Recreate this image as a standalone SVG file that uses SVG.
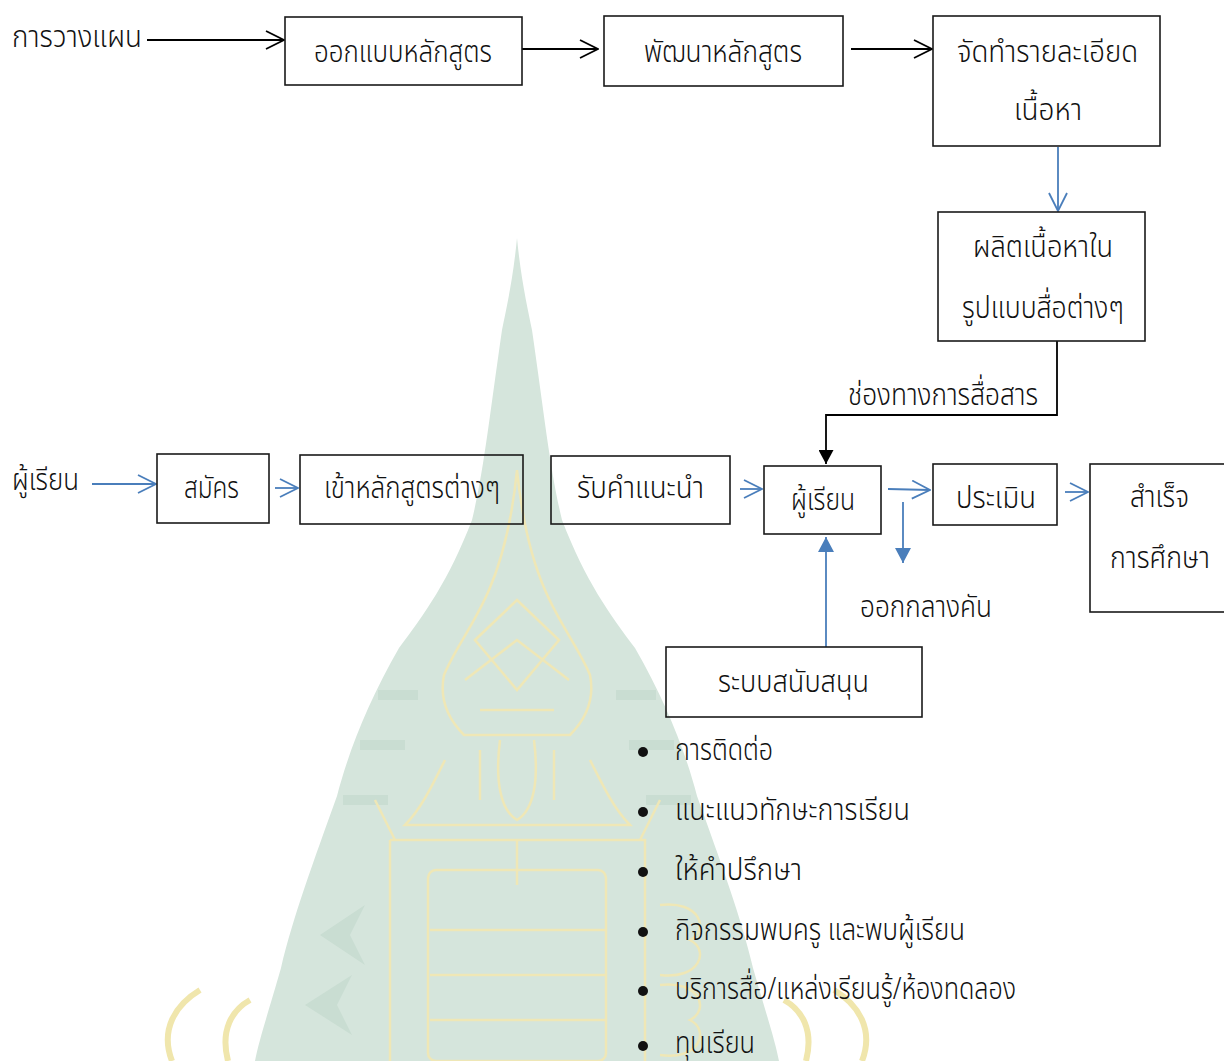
<svg xmlns="http://www.w3.org/2000/svg" width="1224" height="1061" viewBox="0 0 1224 1061">
<style>
.bx{fill:none;stroke:#1a1a1a;stroke-width:1.6}
.t{font-family:'Noto Sans Thai','Noto Sans','DejaVu Sans',sans-serif;font-size:31px;font-weight:300;fill:#111}
.k{fill:none;stroke:#000;stroke-width:1.8}
.b{fill:none;stroke:#4a7ebb;stroke-width:1.8}
.orn{fill:none;stroke:#efe7b6;stroke-width:2.5}
</style>
<defs>
<marker id="ok" viewBox="-1 -1 20 20" refX="18" refY="9" markerWidth="20" markerHeight="20" markerUnits="userSpaceOnUse" orient="auto"><path d="M0,0 L18,9 L0,18" fill="none" stroke="#000" stroke-width="1.8"/></marker>
<marker id="ob" viewBox="-1 -1 20 20" refX="18" refY="9" markerWidth="20" markerHeight="20" markerUnits="userSpaceOnUse" orient="auto"><path d="M0,0 L18,9 L0,18" fill="none" stroke="#4a7ebb" stroke-width="1.8"/></marker>
<marker id="fk" viewBox="0 0 14 15" refX="14" refY="7.5" markerWidth="14" markerHeight="15" markerUnits="userSpaceOnUse" orient="auto"><path d="M0,0 L14,7.5 L0,15 Z" fill="#000"/></marker>
<marker id="fb" viewBox="0 0 15 16" refX="15" refY="8" markerWidth="15" markerHeight="16" markerUnits="userSpaceOnUse" orient="auto"><path d="M0,0 L15,8 L0,16 Z" fill="#4a7ebb"/></marker>
</defs>
<rect width="1224" height="1061" fill="#fff"/>
<g id="watermark">
<path d="M517,238 C521,280 528,310 532,330 C545,420 550,470 562,520 C585,580 610,615 635,648 C665,700 685,750 697,796 C720,860 742,920 753,968 C765,1010 775,1040 779,1061 L255,1061 C259,1040 269,1010 281,968 C292,920 314,860 337,796 C349,750 369,700 399,648 C424,615 449,580 472,520 C484,470 489,420 502,330 C506,310 513,280 517,238 Z" fill="#d5e5dc"/>
<g fill="#c9ddd2">
<path d="M378,690 h40 v10 h-40 z M360,740 h45 v10 h-45 z M343,795 h45 v10 h-45 z M616,690 h40 v10 h-40 z M629,740 h45 v10 h-45 z M646,795 h45 v10 h-45 z"/>
<path d="M365,905 L320,935 L365,965 L350,935 Z M352,975 L305,1005 L352,1035 L337,1005 Z"/>
</g>
<g class="orn">
<path d="M517,470 C522,520 532,560 545,590 C560,625 580,650 590,675 C595,700 585,720 570,735 L464,735 C449,720 439,700 444,675 C454,650 474,625 489,590 C502,560 512,520 517,470 Z"/>
<path d="M475,640 L517,600 L559,640 L517,690 Z M465,680 L517,640 L569,680 M480,710 H554"/>
<path d="M500,740 C495,780 500,810 517,820 C534,810 539,780 534,740 M480,750 V800 M554,750 V800"/>
<path d="M445,760 C430,790 420,810 405,825 L630,825 C615,810 605,790 590,760"/>
<path d="M395,840 L375,800 M640,840 L660,800 M390,840 L645,840 L645,1061 M390,840 L390,1061"/>
<rect x="428" y="870" width="178" height="191" rx="8"/>
<path d="M517,840 V885"/>
<path d="M430,930 H605 M430,975 H605 M430,1020 H605"/>
<path d="M660,905 C700,900 710,930 690,940 C710,950 700,980 660,975 M660,985 C700,980 710,1010 690,1020 C710,1030 700,1061 660,1055"/>
</g>
<g fill="none" stroke="#f0e6ac" stroke-width="6">
<path d="M172,1061 C160,1030 175,1005 200,990 M228,1061 C220,1030 232,1010 250,1000"/>
<path d="M862,1061 C874,1030 859,1005 834,990 M806,1061 C814,1030 802,1010 784,1000"/>
</g>
</g>
<g id="connectors">
<path class="k" d="M147,40 H284" marker-end="url(#ok)"/>
<path class="k" d="M522,49 H598" marker-end="url(#ok)"/>
<path class="k" d="M851,49 H932" marker-end="url(#ok)"/>
<path class="b" d="M1058,147 V211" marker-end="url(#ob)"/>
<path class="k" d="M1057,341 V415 H826 V464" marker-end="url(#fk)"/>
<path class="b" d="M92,484 H156" marker-end="url(#ob)"/>
<path class="b" d="M275,488 H298" marker-end="url(#ob)"/>
<path class="b" d="M740,489 H762" marker-end="url(#ob)"/>
<path class="b" d="M888,489 L930,490" marker-end="url(#ob)"/>
<path class="b" d="M903,502 V563" marker-end="url(#fb)"/>
<path class="b" d="M1065,492 H1088" marker-end="url(#ob)"/>
<path class="b" d="M826,647 V537" marker-end="url(#fb)"/>
</g>
<g id="label-plan"><text class="t" x="12" y="47" textLength="130" lengthAdjust="spacingAndGlyphs">การวางแผน</text></g>
<g id="node-design"><rect class="bx" x="285" y="17" width="237" height="68"/><text class="t" x="314" y="62" textLength="178" lengthAdjust="spacingAndGlyphs">ออกแบบหลักสูตร</text></g>
<g id="node-develop"><rect class="bx" x="604" y="16" width="239" height="70"/><text class="t" x="644" y="62" textLength="158" lengthAdjust="spacingAndGlyphs">พัฒนาหลักสูตร</text></g>
<g id="node-detail"><rect class="bx" x="933" y="16" width="227" height="130"/><text class="t" x="957" y="62" textLength="181" lengthAdjust="spacingAndGlyphs">จัดทำรายละเอียด</text><text class="t" x="1014" y="120" textLength="68" lengthAdjust="spacingAndGlyphs">เนื้อหา</text></g>
<g id="node-produce"><rect class="bx" x="938" y="212" width="207" height="129"/><text class="t" x="973" y="257" textLength="140" lengthAdjust="spacingAndGlyphs">ผลิตเนื้อหาใน</text><text class="t" x="962" y="318" textLength="162" lengthAdjust="spacingAndGlyphs">รูปแบบสื่อต่างๆ</text></g>
<g id="label-channel"><text class="t" x="848" y="405" textLength="190" lengthAdjust="spacingAndGlyphs">ช่องทางการสื่อสาร</text></g>
<g id="label-learner"><text class="t" x="12" y="490" textLength="67" lengthAdjust="spacingAndGlyphs">ผู้เรียน</text></g>
<g id="node-apply"><rect class="bx" x="157" y="454" width="112" height="69"/><text class="t" x="184" y="498" textLength="55" lengthAdjust="spacingAndGlyphs">สมัคร</text></g>
<g id="node-enroll"><rect class="bx" x="300" y="455" width="223" height="69"/><text class="t" x="324" y="498" textLength="176" lengthAdjust="spacingAndGlyphs">เข้าหลักสูตรต่างๆ</text></g>
<g id="node-advice"><rect class="bx" x="551" y="456" width="179" height="68"/><text class="t" x="577" y="498" textLength="127" lengthAdjust="spacingAndGlyphs">รับคำแนะนำ</text></g>
<g id="node-learner"><rect class="bx" x="764" y="466" width="117" height="68"/><text class="t" x="791" y="510" textLength="64" lengthAdjust="spacingAndGlyphs">ผู้เรียน</text></g>
<g id="node-evaluate"><rect class="bx" x="933" y="464" width="124" height="61"/><text class="t" x="956" y="508" textLength="80" lengthAdjust="spacingAndGlyphs">ประเมิน</text></g>
<g id="node-graduate"><rect class="bx" x="1090" y="464" width="150" height="148"/><text class="t" x="1130" y="507" textLength="59" lengthAdjust="spacingAndGlyphs">สำเร็จ</text><text class="t" x="1110" y="568" textLength="100" lengthAdjust="spacingAndGlyphs">การศึกษา</text></g>
<g id="label-dropout"><text class="t" x="860" y="617" textLength="132" lengthAdjust="spacingAndGlyphs">ออกกลางคัน</text></g>
<g id="node-support"><rect class="bx" x="666" y="647" width="256" height="70"/><text class="t" x="718" y="692" textLength="151" lengthAdjust="spacingAndGlyphs">ระบบสนับสนุน</text></g>
<g id="support-list" fill="#111">
<circle cx="643" cy="752" r="5"/><text class="t" x="675" y="760" textLength="98" lengthAdjust="spacingAndGlyphs">การติดต่อ</text>
<circle cx="643" cy="812" r="5"/><text class="t" x="675" y="820" textLength="235" lengthAdjust="spacingAndGlyphs">แนะแนวทักษะการเรียน</text>
<circle cx="643" cy="872" r="5"/><text class="t" x="675" y="880" textLength="127" lengthAdjust="spacingAndGlyphs">ให้คำปรึกษา</text>
<circle cx="643" cy="932" r="5"/><text class="t" x="675" y="940" textLength="290" lengthAdjust="spacingAndGlyphs">กิจกรรมพบครู และพบผู้เรียน</text>
<circle cx="643" cy="991" r="5"/><text class="t" x="675" y="999" textLength="341" lengthAdjust="spacingAndGlyphs">บริการสื่อ/แหล่งเรียนรู้/ห้องทดลอง</text>
<circle cx="643" cy="1046" r="5"/><text class="t" x="675" y="1053" textLength="80" lengthAdjust="spacingAndGlyphs">ทุนเรียน</text>
</g>
</svg>
